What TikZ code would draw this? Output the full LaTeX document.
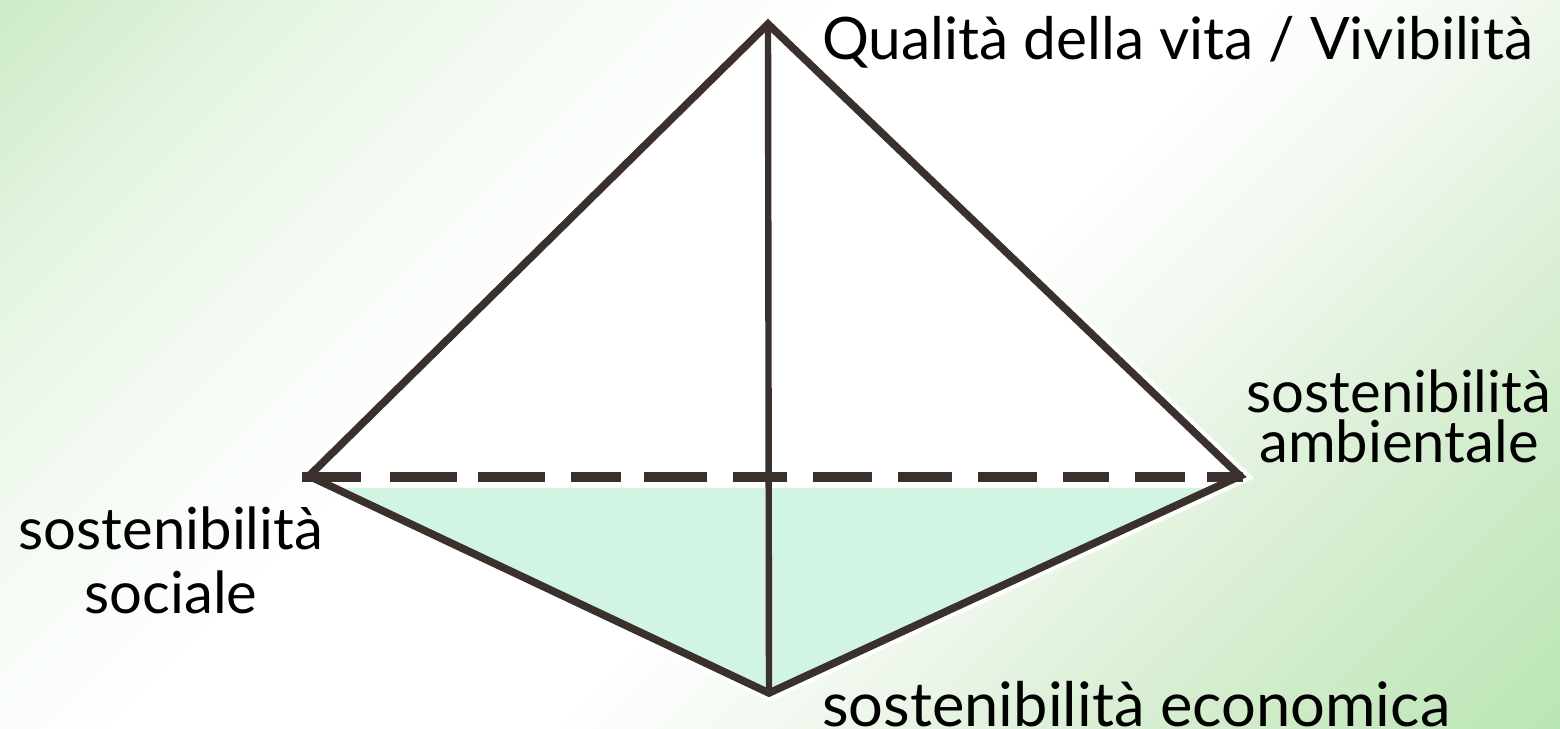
\documentclass[tikz,border=0pt]{standalone}
\usepackage{fontspec}
\setmainfont{Lato}
\definecolor{lineink}{RGB}{58,48,44}
\definecolor{mint}{RGB}{210,245,227}
\definecolor{bgA}{RGB}{205,235,200}
\definecolor{bgB}{RGB}{230,245,227}
\definecolor{bgC}{RGB}{246,251,245}
\definecolor{bgD}{RGB}{238,247,236}
\definecolor{bgE}{RGB}{223,241,218}
\definecolor{bgF}{RGB}{206,235,200}
\definecolor{bgG}{RGB}{187,230,181}
\pgfdeclarehorizontalshading{bgshade}{100bp}{
 color(0bp)=(bgA); color(31.6bp)=(bgA); color(36.4bp)=(bgB); color(41.25bp)=(bgC); color(45.5bp)=(white); color(52bp)=(white);
 color(56.8bp)=(bgD); color(59.8bp)=(bgE); color(63.6bp)=(bgF); color(68.4bp)=(bgG); color(100bp)=(bgG)}
\tikzset{
 x=0.5pt,y=-0.5pt,
 edge/.style={draw=lineink,line width=3.8pt,line join=miter},
 axisline/.style={draw=lineink,line width=3.2pt},
 halo/.style={draw=white,line width=8pt,line join=miter},
 hidden/.style={draw=lineink,line width=5pt,dash pattern=on 29.5pt off 14.5pt on 33.5pt off 10.5pt on 33.5pt off 13pt on 25pt off 11.5pt on 31.5pt off 13pt on 27pt off 13pt on 29.5pt off 13pt on 27pt off 13pt on 29.5pt off 13pt on 23pt off 13pt on 25pt off 11pt on 18pt off 10pt},
 label/.style={text=black,inner sep=0pt,align=center},
 bigq/.style={label,font=\fontsize{29.3}{35}\selectfont},
 bige/.style={label,font=\fontsize{30.7}{35}\selectfont},
 pair/.style={label,font=\fontsize{29}{35}\selectfont}
}
\begin{document}
\begin{tikzpicture}
\useasboundingbox (0,0) rectangle (1560,729);
\begin{scope}
\clip (0,0) rectangle (1560,729);
\shade[shading=bgshade,shading angle=-45] (780-1100,365-1100) rectangle (780+1100,365+1100);
\end{scope}
\coordinate (apex) at (768,24);
\coordinate (west) at (309,476);
\coordinate (east) at (1240,476);
\coordinate (south) at (769,693);
\coordinate (mw) at (345,488);
\coordinate (me) at (1205,488);
\coordinate (ds) at (302,477);
\coordinate (de) at (1243,477);
\draw[halo,fill=white] (apex) -- (east) -- (south) -- (west) -- cycle;
\fill[mint] (mw) -- (me) -- (south) -- cycle;
\draw[edge] (apex) -- (east) -- (south) -- (west) -- cycle;
\draw[axisline] (apex) -- (south);
\draw[hidden] (ds) -- (de);
\node[bigq,anchor=base west] (q) at (822,59) {Qualità della vita / Vivibilità};
\node[pair,anchor=base] (a) at (1399,462) {sostenibilità\\[-10pt]ambientale};
\node[pair,anchor=base] (s) at (171,613) {sostenibilità\\[-3pt]sociale};
\node[bige,anchor=base west] (e) at (822,726) {sostenibilità economica};
\end{tikzpicture}
\end{document}
